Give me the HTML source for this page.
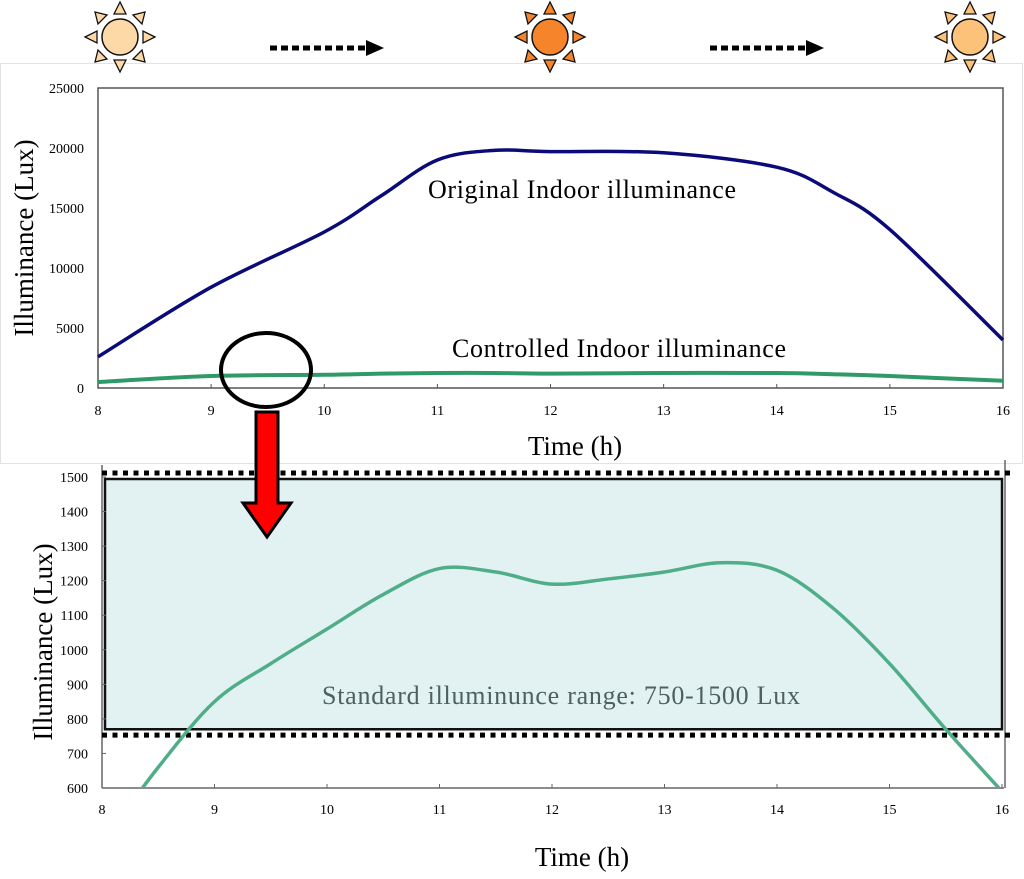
<!DOCTYPE html>
<html><head><meta charset="utf-8"><style>
body{margin:0;background:#fff;width:1024px;height:874px;overflow:hidden}
svg{font-family:"Liberation Serif",serif}
</style></head><body>
<svg id="s" width="1024" height="874" viewBox="0 0 1024 874">
<defs>
<clipPath id="clipB"><rect x="102" y="460" width="904" height="328"/></clipPath>
<g id="sunRays">
<polygon points="0,-35 -6,-23 6,-23"/><polygon points="0,35 -6,23 6,23"/>
<polygon points="-35,0 -23,-6 -23,6"/><polygon points="35,0 23,-6 23,6"/>
<polygon points="-25,-25 -22,-13 -13,-22"/><polygon points="25,-25 22,-13 13,-22"/>
<polygon points="-25,25 -22,13 -13,22"/><polygon points="25,25 22,13 13,22"/>
</g>
</defs>
<rect x="0.5" y="63.5" width="1022" height="400" fill="#fff" stroke="#e2e2e2"/>
<g id="suns"></g>
<g id="arrows"></g>
<g id="top"></g>
<g id="bot"></g>
</svg>
<script>
// Top chart data
const hours=[8,9,10,10.5,11,11.5,12,13,14,14.5,15,16];
const originalLux=[2600,8400,13000,16000,19000,19800,19700,19600,18400,16300,13200,4000];
const controlledLuxTop=[500,1000,1100,1200,1250,1250,1200,1250,1250,1150,1000,600];
const topYTicks=[0,5000,10000,15000,20000,25000];
const xTicks=[8,9,10,11,12,13,14,15,16];
// Bottom chart data
const zoomHours=[8,8.5,9,9.5,10,10.5,11,11.5,12,12.5,13,13.5,14,14.5,15,15.5,16];
const controlledLux=[440,660,850,960,1060,1160,1235,1225,1190,1205,1225,1252,1230,1120,960,770,590];
const botYTicks=[600,700,800,900,1000,1100,1200,1300,1400,1500];
const rangeLow=750, rangeHigh=1500;

const NS="http://www.w3.org/2000/svg";
function el(tag,attrs,parent,text){const e=document.createElementNS(NS,tag);for(const k in attrs)e.setAttribute(k,attrs[k]);if(text!==undefined)e.textContent=text;parent.appendChild(e);return e;}
function smooth(pts){let d=`M${pts[0][0]},${pts[0][1]}`;for(let i=0;i<pts.length-1;i++){const p0=pts[i-1]||pts[i],p1=pts[i],p2=pts[i+1],p3=pts[i+2]||p2;const c1=[p1[0]+(p2[0]-p0[0])/6,p1[1]+(p2[1]-p0[1])/6],c2=[p2[0]-(p3[0]-p1[0])/6,p2[1]-(p3[1]-p1[1])/6];d+=` C${c1[0]},${c1[1]} ${c2[0]},${c2[1]} ${p2[0]},${p2[1]}`;}return d;}

// suns
const suns=document.getElementById('suns');
[[120,'#fdd9a8'],[550,'#f5842a'],[970,'#fdc27a']].forEach((s,i)=>{
 const g=el('g',{transform:`translate(${s[0]},37)`},suns);
 
 
 el('use',{href:'#sunRays',fill:s[1],stroke:'#111','stroke-width':1.3},g);
 el('circle',{r:18,fill:s[1],stroke:'#111','stroke-width':1.5},g);
});
const arr=document.getElementById('arrows');
[[270,366],[710,806]].forEach(a=>{
 const g=el('g',{},arr);
 
 
 el('line',{x1:a[0],y1:48,x2:a[1],y2:48,stroke:'#000','stroke-width':5,'stroke-dasharray':'7,4'},g);
 el('polygon',{points:`${a[1]},40 ${a[1]+18},48 ${a[1]},56`,fill:'#000'},g);
});

// top chart
const T=document.getElementById('top');
const tx=h=>98+(h-8)*(1003-98)/8, ty=v=>388-v*300/25000;
el('rect',{x:98,y:88,width:905,height:300,fill:'none',stroke:'#555','stroke-width':1.5},T);
topYTicks.forEach(v=>{const t=el('text',{x:84,y:ty(v)+5,'text-anchor':'end','font-size':14},T,v);});
xTicks.forEach(h=>{el('line',{x1:tx(h),y1:388,x2:tx(h),y2:384,stroke:'#555'},T);const t=el('text',{x:tx(h),y:415,'text-anchor':'middle','font-size':14},T,h);});
let p=el('path',{d:smooth(hours.map((h,i)=>[tx(h),ty(originalLux[i])])),fill:'none',stroke:'#0a0a78','stroke-width':3.5},T);

p=el('path',{d:smooth(hours.map((h,i)=>[tx(h),ty(controlledLuxTop[i])])),fill:'none',stroke:'#2e9a68','stroke-width':4},T);

let t=el('text',{x:428,y:198,'font-size':26,textLength:308,lengthAdjust:'spacing'},T,'Original  Indoor illuminance');
t=el('text',{x:452,y:357,'font-size':26,textLength:334,lengthAdjust:'spacing'},T,'Controlled  Indoor illuminance');
t=el('text',{transform:'translate(33,238) rotate(-90)','text-anchor':'middle','font-size':27},T,'Illuminance (Lux)');
t=el('text',{x:575,y:455,'text-anchor':'middle','font-size':27},T,'Time (h)');

// bottom chart
const B=document.getElementById('bot');
const bx=h=>102+(h-8)*(1002-102)/8, by=v=>788-(v-600)*(788-477)/900;
let r=el('rect',{x:105,y:by(rangeHigh)+2,width:897,height:by(rangeLow+20)-by(rangeHigh)-2,fill:'#e2f2f2',stroke:'#111','stroke-width':2.5},B);

el('line',{x1:102,y1:788,x2:1004,y2:788,stroke:'#666','stroke-width':1.5},B);
el('line',{x1:102,y1:465,x2:102,y2:788,stroke:'#666','stroke-width':1.5},B);
el('line',{x1:1005,y1:460,x2:1005,y2:788,stroke:'#666','stroke-width':1.5},B);
[by(rangeHigh)-4,by(rangeLow)-1].forEach(y=>{const l=el('line',{x1:102,y1:y,x2:1012,y2:y,stroke:'#000','stroke-width':5,'stroke-dasharray':'5,5.5'},B);});
botYTicks.forEach(v=>{el('line',{x1:102,y1:by(v),x2:106,y2:by(v),stroke:'#666'},B);const t=el('text',{x:88,y:by(v)+5,'text-anchor':'end','font-size':14},B,v);});
xTicks.forEach(h=>{el('line',{x1:bx(h),y1:788,x2:bx(h),y2:784,stroke:'#666'},B);const t=el('text',{x:bx(h),y:814,'text-anchor':'middle','font-size':14},B,h);});
t=el('text',{x:322,y:704,'font-size':26,fill:'#4e6060',textLength:478,lengthAdjust:'spacing'},B,'Standard illuminunce range:  750-1500  Lux');
p=el('path',{d:smooth(zoomHours.map((h,i)=>[bx(h),by(controlledLux[i])])),fill:'none',stroke:'#4fae88','stroke-width':3.5,'clip-path':'url(#clipB)'},B);

t=el('text',{transform:'translate(52,642) rotate(-90)','text-anchor':'middle','font-size':27},B,'Illuminance  (Lux)');
t=el('text',{x:582,y:866,'text-anchor':'middle','font-size':27},B,'Time (h)');

// zoom callout
const g=el('g',{},document.getElementById('s'));

el('polygon',{points:'256,412 278,412 278,503 291,503 267,537 243,503 256,503',fill:'#f00',stroke:'#000','stroke-width':3},g);
el('ellipse',{cx:266,cy:370,rx:45,ry:37,fill:'none',stroke:'#000','stroke-width':4},g);
</script>
</body></html>
